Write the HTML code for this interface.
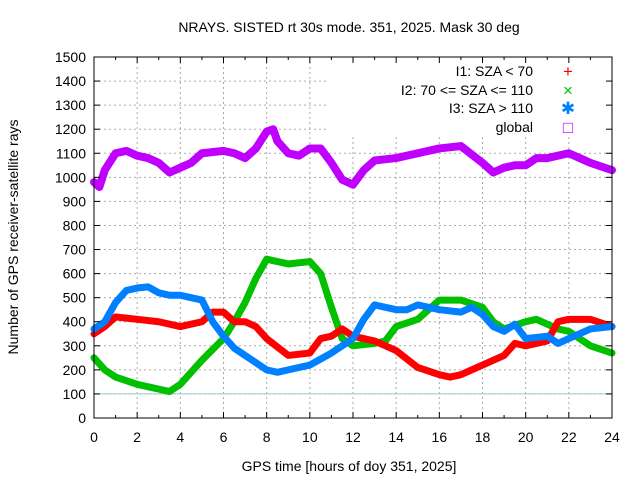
<!DOCTYPE html>
<html><head><meta charset="utf-8"><style>
body{margin:0;background:#fff}
svg{display:block;font-family:"Liberation Sans",sans-serif}
</style></head><body>
<svg id="c" width="640" height="480">
<text x="349" y="32" font-size="14" text-anchor="middle">NRAYS. SISTED rt 30s mode. 351, 2025. Mask 30 deg</text>
<g id="grid"></g><g id="series"></g><g id="axes"></g>
<text transform="translate(18,237) rotate(-90)" font-size="14" text-anchor="middle">Number of GPS receiver-satellite rays</text>
<text x="349" y="471" font-size="14" text-anchor="middle">GPS time [hours of doy 351, 2025]</text>
</svg>
<script>
const xTicks=[0,2,4,6,8,10,12,14,16,18,20,22,24];
const yTicks=[0,100,200,300,400,500,600,700,800,900,1000,1100,1200,1300,1400,1500];
const globalHours=[0,0.25,0.5,1,1.5,2,2.5,3,3.5,4,4.5,5,6,6.5,7,7.5,8,8.3,8.5,9,9.5,10,10.5,11,11.5,12,12.5,13,14,15,16,17,18,18.5,19,19.5,20,20.5,21,22,22.5,23,24];
const globalVals=[980,960,1030,1100,1110,1090,1080,1060,1020,1040,1060,1100,1110,1100,1080,1120,1190,1200,1150,1100,1090,1120,1120,1060,990,970,1030,1070,1080,1100,1120,1130,1060,1020,1040,1050,1050,1080,1080,1100,1080,1060,1030];
const redHours=[0,0.5,1,2,3,4,5,5.5,6,6.5,7,7.5,8,9,10,10.5,11,11.5,12,13,14,15,16,16.5,17,18,19,19.5,20,21,21.5,22,23,24];
const redVals=[350,380,420,410,400,380,400,440,440,400,400,380,330,260,270,330,340,370,340,320,280,210,180,170,180,220,260,310,300,320,400,410,410,380];
const greenHours=[0,0.5,1,2,3,3.5,4,5,6,6.5,7,7.5,8,8.5,9,10,10.5,11,11.5,12,13,13.5,14,15,16,17,18,18.5,19,20,20.5,21,21.5,22,23,24];
const greenVals=[250,200,170,140,120,110,140,240,330,400,480,580,660,650,640,650,600,460,330,300,310,320,380,410,490,490,460,400,370,400,410,390,370,360,300,270];
const blueHours=[0,0.5,1,1.5,2,2.5,3,3.5,4,4.5,5,5.5,6,6.5,7,7.5,8,8.5,9,10,11,12,12.5,13,14,14.5,15,16,17,17.5,18,18.5,19,19.5,20,21,21.5,22,23,24];
const blueVals=[370,400,480,530,540,545,520,510,510,500,490,400,340,290,260,230,200,190,200,220,270,330,410,470,450,450,470,450,440,460,430,380,360,390,330,340,310,330,370,380];
const NS='http://www.w3.org/2000/svg';
const L=94,R=612,T=57,B=418;
const sx=h=>L+(R-L)*h/24, sy=v=>B-(B-T)*v/1500;
function mk(tag,parent,attrs){const e=document.createElementNS(NS,tag);for(const k in attrs)e.setAttribute(k,attrs[k]);parent.appendChild(e);return e;}
const grid=document.getElementById('grid'),axes=document.getElementById('axes'),ser=document.getElementById('series');
yTicks.forEach(v=>{
  if(v>0&&v<1500){const x2=(v>=1200)?327:R;const g=mk('line',grid,{x1:L,x2:x2,y1:sy(v),y2:sy(v),stroke:'#aaa','stroke-dasharray':'2,3'});
  
  }
  const t=mk('text',axes,{x:L-8,y:sy(v)+5,'font-size':14,'text-anchor':'end'});t.textContent=v;
  
  
  mk('line',axes,{x1:L,x2:L+6,y1:sy(v),y2:sy(v),stroke:'#000'});
  mk('line',axes,{x1:R,x2:R-6,y1:sy(v),y2:sy(v),stroke:'#000'});
});
xTicks.forEach(h=>{
  if(h>0&&h<24){const y1=(sx(h)>327)?137:T;const g=mk('line',grid,{x1:sx(h),x2:sx(h),y1:y1,y2:B,stroke:'#aaa','stroke-dasharray':'2,3'});
  
  }
  const t=mk('text',axes,{x:sx(h),y:B+24,'font-size':14,'text-anchor':'middle'});t.textContent=h;
  
  
  mk('line',axes,{x1:sx(h),x2:sx(h),y1:B,y2:B-6,stroke:'#000'});
  mk('line',axes,{x1:sx(h),x2:sx(h),y1:T,y2:T+6,stroke:'#000'});
  if(h<24){mk('line',axes,{x1:sx(h+1),x2:sx(h+1),y1:B,y2:B-3,stroke:'#000'});mk('line',axes,{x1:sx(h+1),x2:sx(h+1),y1:T,y2:T+3,stroke:'#000'});}
});
const ref=mk('line',grid,{x1:L,x2:R,y1:sy(100),y2:sy(100),stroke:'#99cccc'});


const fr=mk('rect',axes,{x:L,y:T,width:R-L,height:B-T,fill:'none',stroke:'#000'});


function series(hs,vs,color,name,w){
  const p=mk('polyline',ser,{points:hs.map((h,i)=>sx(h)+','+sy(vs[i])).join(' '),fill:'none',stroke:color,'stroke-width':w,'stroke-linejoin':'round','stroke-linecap':'round'});
  
  
}
series(globalHours,globalVals,'#c000ff','series-global',8);
series(greenHours,greenVals,'#00c000','series-i2',7);
series(redHours,redVals,'#ff0000','series-i1',7);
series(blueHours,blueVals,'#0080ff','series-i3',7);
const leg=[['I1: SZA < 70','+','#ff0000',71],['I2: 70 <= SZA <= 110','×','#00c000',90],['I3: SZA > 110','✱','#0080ff',108],['global','□','#c000ff',127]];
leg.forEach(l=>{
  const g=mk('g',axes,{});
  
  
  const t=mk('text',g,{x:533,y:l[3]+5,'font-size':14,'text-anchor':'end'});t.textContent=l[0];
  const m=mk('text',g,{x:568,y:l[3]+6,'font-size':17,'text-anchor':'middle',fill:l[2]});m.textContent=l[1];
});
</script>
</body></html>
